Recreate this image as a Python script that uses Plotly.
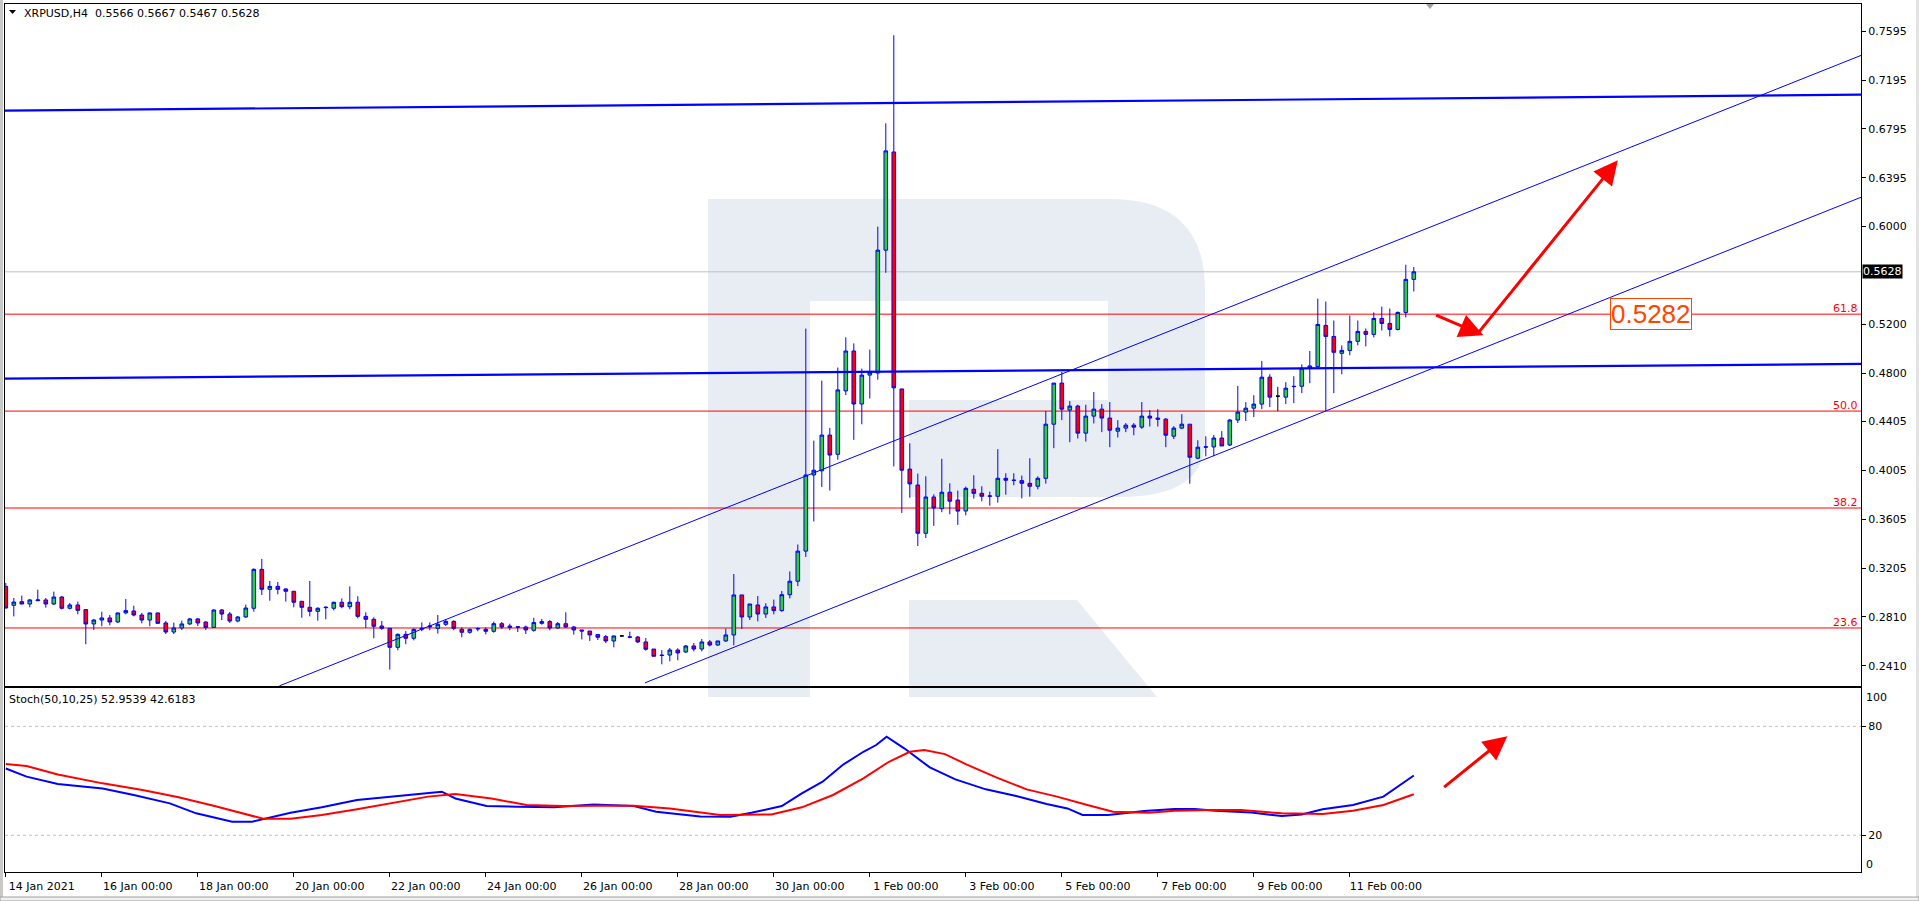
import plotly.graph_objects as go

# ---------------- data ----------------
bar_open = [0.3058,0.2903,0.2933,0.2914,0.2941,0.2947,0.2914,0.2971,0.2879,0.2906,
            0.2868,0.2751,0.2783,0.2800,0.2767,0.2841,0.2857,0.2824,0.2783,0.2841,
            0.2759,0.2685,0.2718,0.2751,0.2792,0.2767,0.2723,0.2865,0.2832,0.2775,
            0.2808,0.2879,0.3197,0.3034,0.3058,0.3037,0.3018,0.2936,0.2887,0.2854,
            0.2884,0.2879,0.2928,0.2892,0.2928,0.2813,0.2789,0.2734,0.2715,0.2560,
            0.2666,0.2634,0.2707,0.2726,0.2715,0.2748,0.2772,0.2707,0.2683,0.2710,
            0.2707,0.2691,0.2753,0.2734,0.2728,0.2726,0.2699,0.2756,0.2770,0.2718,
            0.2753,0.2726,0.2702,0.2693,0.2664,0.2647,0.2612,0.2653,0.2645,0.2644,
            0.2604,0.2546,0.2496,0.2497,0.2538,0.2522,0.2571,0.2546,0.2604,0.2579,
            0.2612,0.2661,0.2988,0.2808,0.2906,0.2832,0.2890,0.2860,0.2990,0.3100,
            0.3346,0.3968,0.4002,0.4294,0.4137,0.4655,0.4981,0.4548,0.4784,0.4801,
            0.5805,0.6607,0.4671,0.4016,0.3886,0.3492,0.3788,0.3693,0.3827,0.3763,
            0.3674,0.3851,0.3818,0.3797,0.3794,0.3941,0.3926,0.3922,0.3900,0.3876,
            0.3941,0.4383,0.4719,0.4498,0.4531,0.4310,0.4449,0.4506,0.4433,0.4326,
            0.4351,0.4375,0.4359,0.4449,0.4433,0.4424,0.4285,0.4351,0.4383,0.4105,
            0.4198,0.4197,0.4270,0.4213,0.4417,0.4482,0.4514,0.4547,0.4767,0.4612,
            0.4604,0.4690,0.4693,0.4843,0.4853,0.5190,0.5100,0.4962,0.4986,0.5060,
            0.5141,0.5117,0.5247,0.5206,0.5157,0.5296,0.5566]
bar_high = [0.3086,0.2963,0.2982,0.2955,0.3031,0.2963,0.3015,0.2979,0.2922,0.2933,
            0.2873,0.2792,0.2851,0.2824,0.2843,0.2955,0.2900,0.2841,0.2843,0.2843,
            0.2775,0.2762,0.2778,0.2800,0.2800,0.2772,0.2870,0.2873,0.2849,0.2816,
            0.2909,0.3205,0.3282,0.3102,0.3094,0.3042,0.3020,0.2939,0.3102,0.2887,
            0.2895,0.2933,0.2960,0.3058,0.2977,0.2846,0.2805,0.2775,0.2718,0.2674,
            0.2693,0.2715,0.2764,0.2764,0.2824,0.2789,0.2781,0.2723,0.2713,0.2723,
            0.2723,0.2770,0.2767,0.2753,0.2734,0.2737,0.2802,0.2792,0.2783,0.2767,
            0.2846,0.2734,0.2702,0.2693,0.2664,0.2661,0.2655,0.2658,0.2688,0.2653,
            0.2636,0.2546,0.2538,0.2555,0.2552,0.2579,0.2595,0.2628,0.2620,0.2612,
            0.2713,0.3159,0.2988,0.2914,0.2979,0.2920,0.2950,0.3020,0.3180,0.3400,
            0.5164,0.4249,0.4739,0.4353,0.4846,0.5093,0.5043,0.4837,0.4992,0.5997,
            0.6841,0.7561,0.4671,0.4227,0.3979,0.3957,0.3810,0.4100,0.3900,0.3841,
            0.3873,0.3966,0.3876,0.3832,0.4179,0.3982,0.3982,0.3963,0.4105,0.3957,
            0.4490,0.4719,0.4810,0.4572,0.4542,0.4542,0.4646,0.4547,0.4564,0.4416,
            0.4392,0.4392,0.4564,0.4498,0.4506,0.4433,0.4367,0.4465,0.4383,0.4252,
            0.4284,0.4295,0.4327,0.4425,0.4696,0.4563,0.4620,0.4900,0.4791,0.4688,
            0.4726,0.4775,0.4872,0.4981,0.5409,0.5385,0.5230,0.5027,0.5271,0.5230,
            0.5165,0.5296,0.5344,0.5328,0.5304,0.5686,0.5667]
bar_low = [0.2879,0.2813,0.2912,0.2887,0.2938,0.2884,0.2906,0.2870,0.2870,0.2830,
           0.2585,0.2702,0.2732,0.2740,0.2759,0.2830,0.2813,0.2756,0.2732,0.2751,
           0.2669,0.2669,0.2702,0.2743,0.2734,0.2702,0.2718,0.2783,0.2759,0.2764,
           0.2800,0.2851,0.2988,0.2941,0.2993,0.2933,0.2887,0.2802,0.2813,0.2778,
           0.2789,0.2862,0.2879,0.2871,0.2797,0.2718,0.2634,0.2702,0.2378,0.2536,
           0.2585,0.2617,0.2691,0.2699,0.2672,0.2734,0.2699,0.2642,0.2672,0.2691,
           0.2666,0.2680,0.2710,0.2699,0.2685,0.2669,0.2688,0.2745,0.2699,0.2710,
           0.2718,0.2664,0.2625,0.2612,0.2620,0.2595,0.2560,0.2648,0.2634,0.2595,
           0.2533,0.2487,0.2421,0.2446,0.2454,0.2514,0.2527,0.2527,0.2568,0.2571,
           0.2604,0.2576,0.2710,0.2783,0.2772,0.2800,0.2830,0.2850,0.2960,0.3060,
           0.3298,0.3588,0.3870,0.3841,0.4092,0.4621,0.4255,0.4382,0.4593,0.4747,
           0.5620,0.4038,0.3658,0.3782,0.3388,0.3453,0.3552,0.3664,0.3647,0.3560,
           0.3638,0.3775,0.3753,0.3717,0.3742,0.3807,0.3884,0.3777,0.3791,0.3851,
           0.3897,0.4187,0.4416,0.4236,0.4266,0.4241,0.4389,0.4318,0.4195,0.4274,
           0.4318,0.4293,0.4345,0.4364,0.4364,0.4195,0.4261,0.4343,0.3897,0.4097,
           0.4121,0.4121,0.4205,0.4205,0.4392,0.4409,0.4441,0.4506,0.4523,0.4490,
           0.4547,0.4555,0.4637,0.4718,0.4848,0.4490,0.4637,0.4791,0.4946,0.5027,
           0.5019,0.5092,0.5149,0.5100,0.5149,0.5255,0.5467]
bar_close = [0.2881,0.2930,0.2914,0.2947,0.2947,0.2914,0.2971,0.2879,0.2906,0.2862,
             0.2751,0.2783,0.2800,0.2767,0.2841,0.2860,0.2824,0.2783,0.2841,0.2756,
             0.2685,0.2718,0.2751,0.2792,0.2759,0.2723,0.2865,0.2832,0.2775,0.2808,
             0.2881,0.3197,0.3034,0.3058,0.3034,0.3018,0.2928,0.2887,0.2854,0.2879,
             0.2887,0.2928,0.2892,0.2928,0.2813,0.2789,0.2732,0.2715,0.2560,0.2666,
             0.2634,0.2707,0.2715,0.2734,0.2748,0.2772,0.2715,0.2683,0.2707,0.2713,
             0.2691,0.2753,0.2726,0.2723,0.2725,0.2702,0.2762,0.2770,0.2718,0.2753,
             0.2726,0.2702,0.2693,0.2661,0.2642,0.2612,0.2653,0.2653,0.2643,0.2604,
             0.2544,0.2487,0.2494,0.2538,0.2514,0.2571,0.2546,0.2604,0.2579,0.2612,
             0.2661,0.2988,0.2808,0.2914,0.2832,0.2890,0.2860,0.2990,0.3100,0.3346,
             0.3968,0.4007,0.4294,0.4131,0.4663,0.4981,0.4548,0.4784,0.4807,0.5805,
             0.6616,0.4680,0.4007,0.3895,0.3492,0.3788,0.3698,0.3827,0.3754,0.3673,
             0.3859,0.3818,0.3794,0.3795,0.3941,0.3925,0.3924,0.3900,0.3876,0.3941,
             0.4383,0.4719,0.4506,0.4531,0.4310,0.4449,0.4506,0.4433,0.4334,0.4351,
             0.4375,0.4359,0.4449,0.4433,0.4424,0.4293,0.4351,0.4383,0.4113,0.4195,
             0.4196,0.4270,0.4205,0.4417,0.4482,0.4514,0.4547,0.4767,0.4604,0.4612,
             0.4677,0.4692,0.4840,0.4859,0.5198,0.5100,0.4970,0.4986,0.5060,0.5141,
             0.5117,0.5247,0.5206,0.5157,0.5296,0.5566,0.5628]

date_tick_bars = [0, 12, 24, 36, 48, 60, 72, 84, 96, 108, 120, 132, 144, 156, 168]
date_tick_labels = ["14 Jan 2021", "16 Jan 00:00", "18 Jan 00:00", "20 Jan 00:00",
                    "22 Jan 00:00", "24 Jan 00:00", "26 Jan 00:00", "28 Jan 00:00",
                    "30 Jan 00:00", "1 Feb 00:00", "3 Feb 00:00", "5 Feb 00:00",
                    "7 Feb 00:00", "9 Feb 00:00", "11 Feb 00:00"]
price_ticks = [0.7595, 0.7195, 0.6795, 0.6395, 0.6000, 0.5200, 0.4800,
               0.4405, 0.4005, 0.3605, 0.3205, 0.2810, 0.2410]

fib_levels = [0.2718, 0.3698, 0.4490, 0.5282]
fib_labels = ["23.6", "38.2", "50.0", "61.8"]
bid_price = 0.5628
target_price = 0.5282
target_bar = 205.6

channel_upper_bar = [34.2, 231.9]
channel_upper_price = [0.2245, 0.7396]
channel_lower_bar = [79.9, 231.9]
channel_lower_price = [0.2270, 0.6237]
level_upper_bar = [-0.1, 231.9]
level_upper_price = [0.6945, 0.7075]
level_lower_bar = [-0.1, 231.9]
level_lower_price = [0.4755, 0.4875]

arrow_small = [178.6, 0.5279, 184.7, 0.5109]
arrow_big = [183.8, 0.5109, 201.5, 0.6539]
arrow_stoch = [179.6, 45.9, 187.7, 74.6]

stoch_main_bar = [0, 2.6, 6.5, 12.1, 16.0, 20.5, 23.8, 28.3, 30.8, 33.3,
                  35.6, 39.5, 43.9, 48.4, 52.8, 54.5, 56.2, 60.1, 64.0, 68.5,
                  73.5, 78.5, 81.3, 84.7, 86.8, 90.6, 93.2, 97.0, 99.5, 102.1,
                  104.6, 107.2, 108.8, 110.1, 112.3, 115.5, 118.7, 122.5, 126.3, 130.1,
                  132.7, 134.6, 137.8, 142.3, 146.1, 148.6, 151.2, 155.7, 159.5, 162.0,
                  164.6, 168.4, 172.2, 176]
stoch_main_val = [56.8, 52.3, 48.2, 45.8, 42.2, 37.6, 32.1, 27.5, 27.5, 30.2,
                  32.4, 35.4, 39.4, 41.3, 43.5, 44.0, 40.3, 36.1, 35.7, 35.4,
                  37.0, 36.1, 33.0, 31.3, 30.4, 30.2, 32.4, 36.1, 43.1, 49.5,
                  58.7, 66.0, 69.7, 74.3, 67.9, 57.4, 50.8, 45.3, 41.6, 37.2,
                  34.8, 31.2, 31.2, 33.4, 34.5, 34.5, 33.5, 32.6, 30.6, 31.5,
                  34.3, 36.7, 41.3, 52.9539]
stoch_sig_bar = [0, 2.6, 6.5, 12.1, 17.1, 21.6, 26.1, 29.4, 32.2, 35.6,
                 39.5, 43.9, 48.4, 52.8, 56.2, 60.7, 65.1, 69.6, 74.0, 78.5,
                 83.0, 86.8, 89.3, 95.7, 99.5, 103.4, 107.2, 110.4, 113.0, 114.8,
                 117.4, 120.0, 123.8, 127.6, 131.4, 135.2, 138.4, 142.9, 146.1, 150.6,
                 154.4, 159.5, 164.6, 168.4, 172.2, 176]
stoch_sig_val = [59.2, 58.1, 53.5, 48.6, 44.9, 40.9, 36.1, 32.1, 29.1, 29.1,
                 31.2, 34.3, 38.0, 41.3, 42.7, 40.3, 36.7, 36.1, 36.3, 36.3,
                 34.8, 32.6, 31.2, 31.5, 35.4, 42.2, 51.3, 60.5, 66.0, 66.9,
                 64.7, 59.2, 51.9, 45.3, 41.3, 36.7, 33.0, 32.4, 33.5, 33.9,
                 33.9, 32.1, 31.7, 33.5, 36.7, 42.6183]
stoch_levels = [80, 20]

# ---------------- layout geometry (pixels) ----------------
W, H = 1919, 901
PL, PR, PT, PB = 5, 1861, 4, 872
MAIN_BOTTOM, STOCH_TOP = 686, 688
FONT = "DejaVu Sans"


def px(x):
    return (x - PL) / (PR - PL)


def py(y):
    return (PB - y) / (PB - PT)


def path(cmds):
    out = []
    for c in cmds:
        if c[0] == "Q":
            out.append(f"Q {px(c[1]):.5f},{py(c[2]):.5f} {px(c[3]):.5f},{py(c[4]):.5f}")
        else:
            out.append(f"{c[0]} {px(c[1]):.5f},{py(c[2]):.5f}")
    return " ".join(out) + " Z"


x_range = [-0.1, 231.9]
bars = list(range(len(bar_open)))

fig = go.Figure()

# trend / level lines
for bx, pr, w in [(level_upper_bar, level_upper_price, 2.2),
                  (level_lower_bar, level_lower_price, 2.2),
                  (channel_upper_bar, channel_upper_price, 1),
                  (channel_lower_bar, channel_lower_price, 1)]:
    fig.add_trace(go.Scatter(x=bx, y=pr, mode="lines", line=dict(color="#0000FF", width=w),
                             hoverinfo="skip", showlegend=False, xaxis="x", yaxis="y"))

# candles
norm = [i for i in bars if bar_open[i] != bar_close[i]]
doji = [i for i in bars if bar_open[i] == bar_close[i]]
fig.add_trace(go.Candlestick(
    x=norm, open=[bar_open[i] for i in norm], high=[bar_high[i] for i in norm],
    low=[bar_low[i] for i in norm], close=[bar_close[i] for i in norm],
    increasing=dict(fillcolor="#32CD32", line=dict(color="#0000FF", width=1)),
    decreasing=dict(fillcolor="#FF0000", line=dict(color="#0000FF", width=1)),
    whiskerwidth=0, showlegend=False, hoverinfo="skip", xaxis="x", yaxis="y"))
fig.add_trace(go.Candlestick(
    x=doji, open=[bar_open[i] for i in doji], high=[bar_high[i] for i in doji],
    low=[bar_low[i] for i in doji], close=[bar_close[i] for i in doji],
    increasing=dict(fillcolor="#000000", line=dict(color="#000000", width=1)),
    decreasing=dict(fillcolor="#000000", line=dict(color="#000000", width=1)),
    whiskerwidth=0, showlegend=False, hoverinfo="skip", xaxis="x", yaxis="y"))

# stochastic
fig.add_trace(go.Scatter(x=stoch_main_bar, y=stoch_main_val, mode="lines",
                         line=dict(color="#0000FF", width=2), hoverinfo="skip",
                         showlegend=False, xaxis="x2", yaxis="y2"))
fig.add_trace(go.Scatter(x=stoch_sig_bar, y=stoch_sig_val, mode="lines",
                         line=dict(color="#FF0000", width=2), hoverinfo="skip",
                         showlegend=False, xaxis="x2", yaxis="y2"))

shapes = []
LOGO = "rgb(232,236,243)"
shapes.append(dict(type="path", xref="paper", yref="paper", layer="below",
                   fillcolor=LOGO, line=dict(width=0),
                   path=path([("M", 708, 199), ("L", 1110, 199), ("Q", 1205, 199, 1205, 290),
                              ("L", 1205, 440), ("Q", 1205, 497, 1120, 497), ("L", 909, 497),
                              ("L", 909, 400), ("L", 1108, 400), ("L", 1108, 301),
                              ("L", 810, 301), ("L", 810, 697), ("L", 708, 697)])))
shapes.append(dict(type="path", xref="paper", yref="paper", layer="below",
                   fillcolor=LOGO, line=dict(width=0),
                   path=path([("M", 909, 600), ("L", 1077, 600), ("L", 1157, 697), ("L", 909, 697)])))
# window decorations
shapes.append(dict(type="rect", xref="paper", yref="paper", x0=px(0), x1=px(3), y0=py(901), y1=py(0),
                   fillcolor="#C8C8C8", line=dict(width=0), layer="below"))
shapes.append(dict(type="rect", xref="paper", yref="paper", x0=px(1916), x1=px(1919), y0=py(901), y1=py(0),
                   fillcolor="#E3E3E3", line=dict(width=0), layer="below"))
shapes.append(dict(type="rect", xref="paper", yref="paper", x0=px(0), x1=px(1919), y0=py(901), y1=py(897),
                   fillcolor="#F0F0F0", line=dict(color="#A0A0A0", width=1), layer="below"))
# symbol triangle and shift marker
shapes.append(dict(type="path", xref="paper", yref="paper", fillcolor="#000000", line=dict(width=0),
                   path=path([("M", 9, 10), ("L", 16, 10), ("L", 12.5, 14)])))
shapes.append(dict(type="path", xref="paper", yref="paper", fillcolor="#A0A0A0", line=dict(width=0),
                   path=path([("M", 1426, 4), ("L", 1434, 4), ("L", 1430, 9)])))

# fib + bid lines
for lv in fib_levels:
    shapes.append(dict(type="line", xref="x domain", yref="y", x0=0, x1=1, y0=lv, y1=lv,
                       line=dict(color="#FF0000", width=1), layer="below"))
shapes.append(dict(type="line", xref="x domain", yref="y", x0=0, x1=1, y0=bid_price, y1=bid_price,
                   line=dict(color="#C0C0C0", width=1), layer="below"))
for lv in stoch_levels:
    shapes.append(dict(type="line", xref="x2 domain", yref="y2", x0=0, x1=1, y0=lv, y1=lv,
                       line=dict(color="#C0C0C0", width=1, dash="3px,3px"), layer="below"))

annotations = []
title = "XRPUSD,H4\u00a0\u00a0{:.4f} {:.4f} {:.4f} {:.4f}".format(
    bar_open[-1], bar_high[-1], bar_low[-1], bar_close[-1])
annotations.append(dict(text=title, xref="paper", yref="paper", x=0, y=1, xanchor="left",
                        yanchor="top", xshift=17, yshift=-1, showarrow=False,
                        font=dict(family=FONT, size=11, color="#000000")))
annotations.append(dict(text="Stoch(50,10,25) {:.4f} {:.4f}".format(stoch_main_val[-1], stoch_sig_val[-1]),
                        xref="paper", yref="y2 domain", x=0, y=1, xanchor="left", yanchor="top",
                        xshift=2, yshift=-3, showarrow=False,
                        font=dict(family=FONT, size=11, color="#000000")))
for lv, lb in zip(fib_levels, fib_labels):
    annotations.append(dict(text=lb, xref="paper", yref="y", x=1, y=lv, xanchor="right",
                            yanchor="bottom", xshift=-1, yshift=-3, showarrow=False,
                            font=dict(family=FONT, size=11, color="#FF0000")))
annotations.append(dict(text="{:.4f}".format(bid_price), xref="paper", yref="y", x=1, y=bid_price,
                        xanchor="left", yanchor="middle", xshift=1, showarrow=False, bgcolor="#000000",
                        borderpad=0, font=dict(family=FONT, size=11, color="#FFFFFF")))
annotations.append(dict(text="{:.4f}".format(target_price), xref="x", yref="y", x=target_bar,
                        y=target_price, showarrow=False, bgcolor="#FFFFFF", bordercolor="#FF4500",
                        borderwidth=1, borderpad=0,
                        font=dict(family="Liberation Sans", size=26, color="#FF4500")))
annotations.append(dict(text="100", xref="paper", yref="y2", x=1, y=100, xanchor="left",
                        yanchor="middle", xshift=3, yshift=-7, showarrow=False,
                        font=dict(family=FONT, size=11, color="#000000")))
annotations.append(dict(text="0", xref="paper", yref="y2", x=1, y=0, xanchor="left",
                        yanchor="middle", xshift=3, yshift=7, showarrow=False,
                        font=dict(family=FONT, size=11, color="#000000")))
for (x0, y0, x1, y1), xr, yr in [(arrow_small, "x", "y"), (arrow_big, "x", "y"), (arrow_stoch, "x2", "y2")]:
    annotations.append(dict(text="", x=x1, y=y1, ax=x0, ay=y0, xref=xr, yref=yr, axref=xr, ayref=yr,
                            showarrow=True, arrowhead=2, arrowsize=1.6, arrowwidth=3,
                            arrowcolor="#FF0000", standoff=0))

axis_common = dict(showgrid=False, zeroline=False, showline=True, mirror=True,
                   linecolor="#000000", linewidth=1)

fig.update_layout(
    width=W, height=H,
    margin=dict(l=PL, r=W - PR, t=PT, b=H - PB),
    paper_bgcolor="#FFFFFF", plot_bgcolor="rgba(0,0,0,0)",
    showlegend=False, boxgap=0.35,
    xaxis=dict(domain=[0, 1], range=x_range, anchor="y", showticklabels=False, ticks="",
               rangeslider=dict(visible=False), **axis_common),
    xaxis2=dict(domain=[0, 1], range=x_range, anchor="y2", matches="x",
                tickmode="array", tickvals=date_tick_bars, ticktext=date_tick_labels,
                ticks="outside", ticklen=4, tickcolor="#000000", ticklabelshift=36,
                tickfont=dict(family=FONT, size=11, color="#000000"),
                rangeslider=dict(visible=False), **axis_common),
    yaxis=dict(domain=[py(MAIN_BOTTOM), 1], range=[0.2244, 0.7816], anchor="x", side="right",
               tickmode="array", tickvals=price_ticks, ticktext=["{:.4f}".format(v) for v in price_ticks],
               ticks="outside", ticklen=4, tickcolor="#000000",
               tickfont=dict(family=FONT, size=11, color="#000000"), **axis_common),
    yaxis2=dict(domain=[0, py(STOCH_TOP)], range=[-0.2, 101.1], anchor="x2", side="right",
                tickmode="array", tickvals=stoch_levels, ticktext=[str(v) for v in stoch_levels],
                ticks="outside", ticklen=4, tickcolor="#000000",
                tickfont=dict(family=FONT, size=11, color="#000000"), **axis_common),
    shapes=shapes, annotations=annotations,
)

fig.write_html("out.html", config={"displayModeBar": False},
               post_script="document.body.style.margin='0px';document.body.style.overflow='hidden';")
